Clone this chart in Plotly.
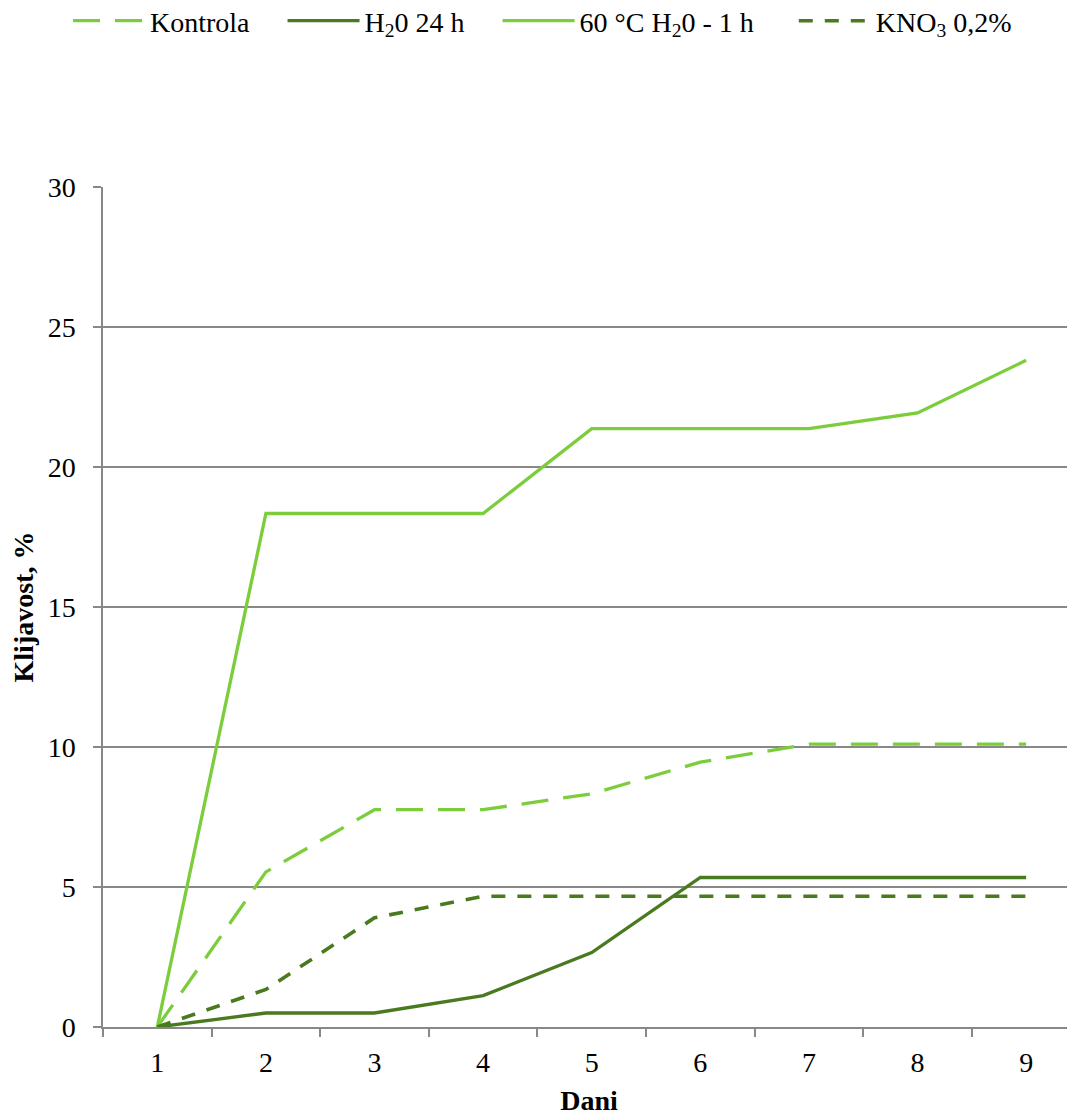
import plotly.graph_objects as go

days = ["1", "2", "3", "4", "5", "6", "7", "8", "9"]
kontrola = [0, 5.54, 7.76, 7.76, 8.33, 9.46, 10.1, 10.1, 10.1]
h2o_24h = [0, 0.5, 0.5, 1.12, 2.66, 5.34, 5.34, 5.34, 5.34]
h2o_60c = [0, 18.34, 18.34, 18.34, 21.37, 21.37, 21.37, 21.93, 23.81]
kno3 = [0, 1.34, 3.9, 4.67, 4.67, 4.67, 4.67, 4.67, 4.67]

PAD = "\u00a0" * 4
names = ["Kontrola" + PAD, "H<sub>2</sub>0 24 h" + PAD,
         "60 °C H<sub>2</sub>0 - 1 h" + PAD + "\u00a0", "KNO<sub>3</sub> 0,2%"]

LIGHT = "#7CCD3B"
DARK = "#4A7A1F"
FONT = "Liberation Serif, Times New Roman, serif"

fig = go.Figure()
fig.add_trace(go.Scatter(x=days, y=kontrola, name=names[0], mode="lines",
                         line=dict(color=LIGHT, width=3.3, dash="27px,15px")))
fig.add_trace(go.Scatter(x=days, y=h2o_24h, name=names[1], mode="lines",
                         line=dict(color=DARK, width=3.3)))
fig.add_trace(go.Scatter(x=days, y=h2o_60c, name=names[2], mode="lines",
                         line=dict(color=LIGHT, width=3.3)))
fig.add_trace(go.Scatter(x=days, y=kno3, name=names[3], mode="lines",
                         line=dict(color=DARK, width=3.6, dash="14px,12px")))

fig.update_layout(
    width=1067, height=1108,
    margin=dict(l=95, r=0, t=179, b=89, autoexpand=False),
    paper_bgcolor="white", plot_bgcolor="white",
    font=dict(family=FONT, size=28, color="black"),
    showlegend=True,
    legend=dict(orientation="h", x=-0.036, xanchor="left", y=1.2274, yanchor="top",
                itemwidth=72, font=dict(size=28), traceorder="normal"),
    xaxis=dict(type="category", range=[-0.5, 8.45], tickson="boundaries",
               ticks="outside", ticklen=8, tickcolor="#888888", tickwidth=1.5,
               showline=True, linecolor="#888888", linewidth=1.5,
               showgrid=False, zeroline=False, ticklabelstandoff=10, automargin=False,
               tickfont=dict(size=28),
               title=dict(text="<b>Dani</b>", standoff=14, font=dict(size=28))),
    yaxis=dict(range=[0, 30], tickvals=[0, 5, 10, 15, 20, 25, 30],
               ticks="outside", ticklen=8, tickcolor="#888888", tickwidth=1.5,
               showline=True, linecolor="#888888", linewidth=1.5,
               showgrid=True, gridcolor="#888888", gridwidth=1.5,
               zeroline=False, ticklabelstandoff=12, automargin=False,
               tickfont=dict(size=28),
               title=dict(text="<b>Klijavost, %</b>", standoff=14, font=dict(size=28))),
)

fig.write_html("out.html")
